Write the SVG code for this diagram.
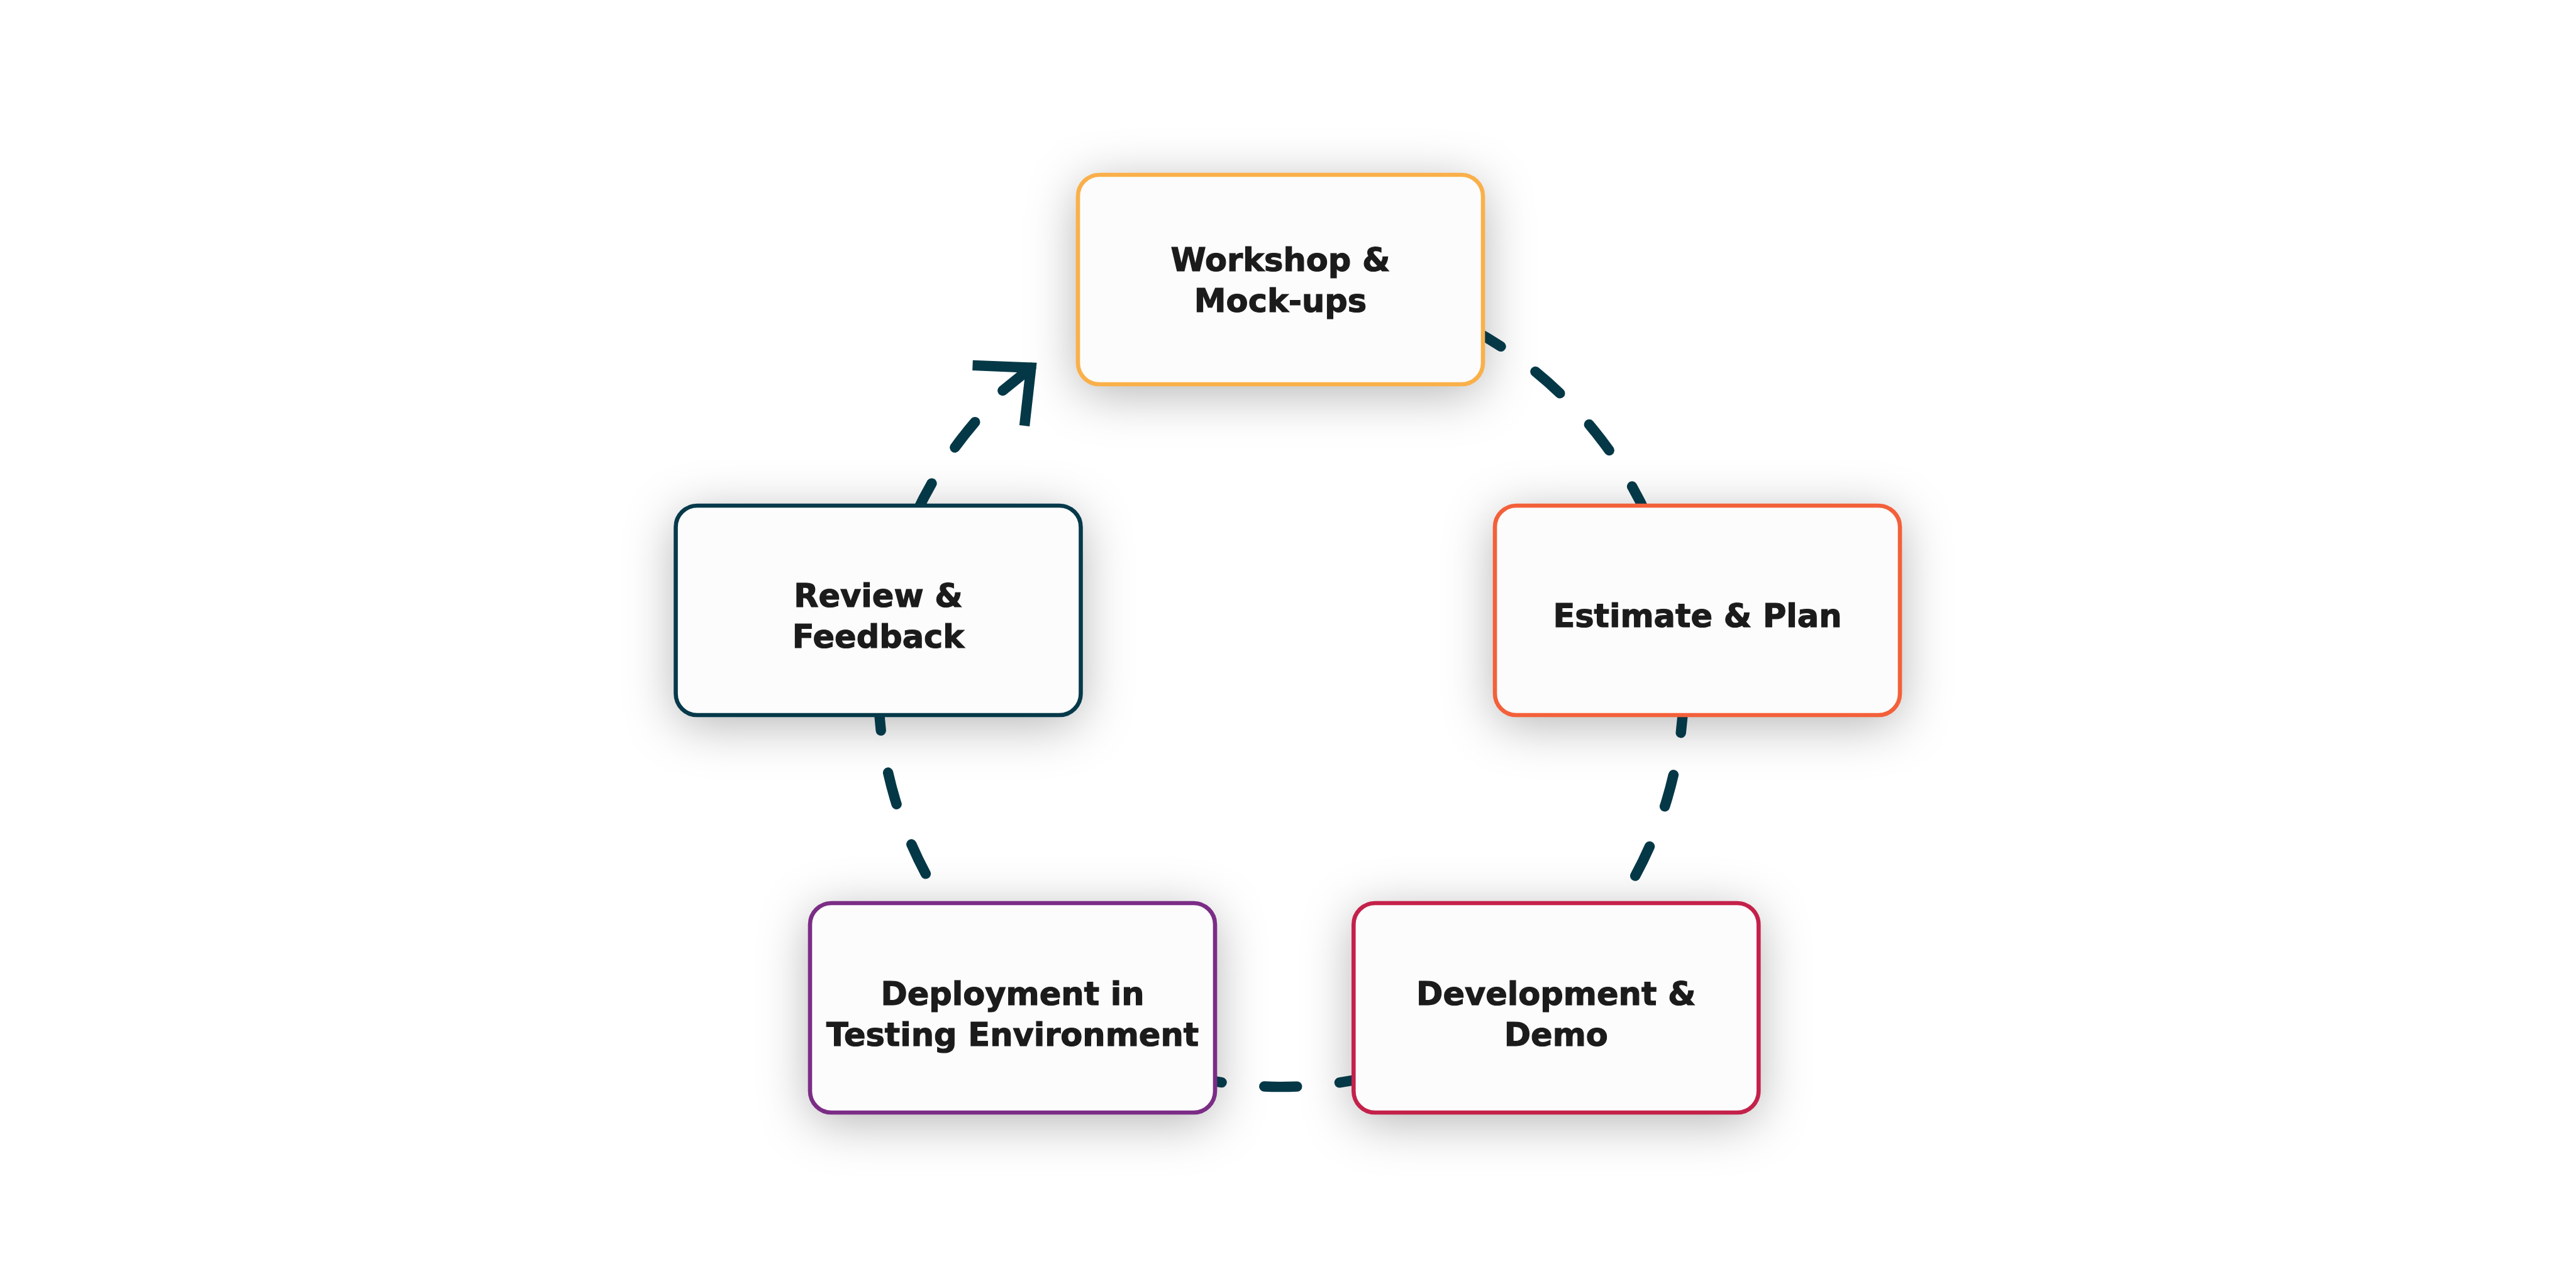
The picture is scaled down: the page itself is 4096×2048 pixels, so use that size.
<svg xmlns="http://www.w3.org/2000/svg" width="4096" height="2048" viewBox="0 0 4096 2048">
  <defs>
    <filter id="shadow" x="-40%" y="-60%" width="180%" height="230%">
      <feDropShadow dx="0" dy="14" stdDeviation="40" flood-color="#000000" flood-opacity="0.3"/>
    </filter>
    <style>
      .shadow { fill: #fcfcfc; stroke: none; filter: url(#shadow); }
      .box { fill: #fcfcfc; stroke-width: 6.6; }
      .label { font-family: "DejaVu Sans", "Liberation Sans", sans-serif; font-weight: bold; font-size: 51px; fill: #1b1b1b; stroke: #1b1b1b; stroke-width: 1.2; text-anchor: middle; }
      .dash { fill: none; stroke: #053847; stroke-width: 16.4; stroke-linecap: round; stroke-dasharray: 52 68; }
      .arrow { fill: none; stroke: #053847; stroke-width: 16.4; }
    </style>
  </defs>
  <rect width="4096" height="2048" fill="#ffffff"/>

  <g id="shadows">
    <rect class="shadow" x="1714" y="278" width="644" height="333" rx="34"/>
    <rect class="shadow" x="2377" y="804" width="644" height="333" rx="34"/>
    <rect class="shadow" x="1074.5" y="804" width="644" height="333" rx="34"/>
    <rect class="shadow" x="1288" y="1436" width="644" height="333" rx="34"/>
    <rect class="shadow" x="2152.3" y="1436" width="644" height="333" rx="34"/>
  </g>

  <g id="connectors">
    <path class="dash" d="M2341.8,524.3 A640.5,640.5 0 0 1 2630.8,847.7"/>
    <path class="dash" d="M2676.9,1113.4 A640.5,640.5 0 0 1 2555.1,1464.1"/>
    <path class="dash" d="M2181.0,1711.7 A640.5,640.5 0 0 1 1892.8,1711.7"/>
    <path class="dash" d="M1538.0,1489.3 A640.5,640.5 0 0 1 1396.4,1087.6"/>
    <path class="dash" d="M1457.4,814.7 A640.5,640.5 0 0 1 1550.3,671.1"/>
    <path class="arrow" stroke-linecap="round" d="M1594.3,621.1 L1639.4,584.7"/>
    <path class="arrow" stroke-linecap="butt" stroke-linejoin="miter" d="M1546.5,580.9 L1639.4,584.7 L1629,677"/>
  </g>

  <g id="node-workshop">
    <rect class="box" x="1714" y="278" width="644" height="333" rx="34" stroke="#fab04a"/>
    <text class="label" x="2036" y="431">Workshop &amp;</text>
    <text class="label" x="2036" y="495.5">Mock-ups</text>
  </g>

  <g id="node-estimate">
    <rect class="box" x="2377" y="804" width="644" height="333" rx="34" stroke="#f3603a"/>
    <text class="label" x="2699" y="996.7">Estimate &amp; Plan</text>
  </g>

  <g id="node-review">
    <rect class="box" x="1074.5" y="804" width="644" height="333" rx="34" stroke="#06394a"/>
    <text class="label" x="1396.5" y="964.8">Review &amp;</text>
    <text class="label" x="1396.5" y="1029.5">Feedback</text>
  </g>

  <g id="node-deployment">
    <rect class="box" x="1288" y="1436" width="644" height="333" rx="34" stroke="#7b2d86"/>
    <text class="label" x="1610" y="1598">Deployment in</text>
    <text class="label" x="1610" y="1663.4">Testing Environment</text>
  </g>

  <g id="node-development">
    <rect class="box" x="2152.3" y="1436" width="644" height="333" rx="34" stroke="#c4214a"/>
    <text class="label" x="2474.3" y="1598">Development &amp;</text>
    <text class="label" x="2474.3" y="1663.4">Demo</text>
  </g>
</svg>
